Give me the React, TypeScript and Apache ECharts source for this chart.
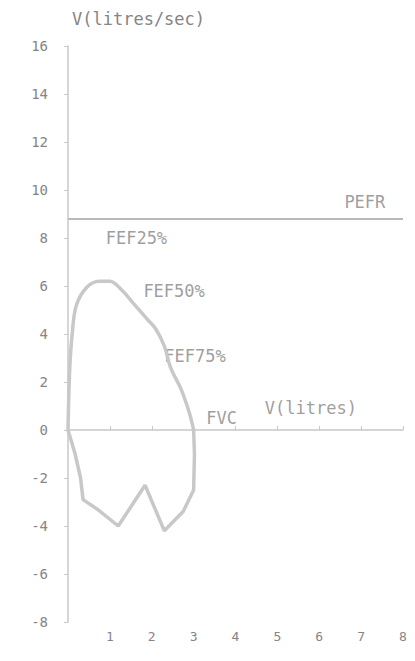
import React, { useEffect, useRef } from "react";
import * as echarts from "echarts";

const expiratory: [number, number][] = [
  [0, 0], [0.04, 2.5], [0.1, 4.0], [0.2, 5.2], [0.45, 5.95], [0.75, 6.2], [1.0, 6.2],
  [1.3, 5.8], [1.55, 5.3], [1.9, 4.6], [2.1, 4.2], [2.3, 3.5], [2.45, 2.6],
  [2.7, 1.7], [2.9, 0.7], [3.0, 0],
];
const inspiratory: [number, number][] = [
  [0, 0], [0.17, -1.0], [0.3, -2.0], [0.36, -2.9], [0.7, -3.3], [1.2, -4.0],
  [1.84, -2.3], [2.3, -4.2], [2.75, -3.4], [3.0, -2.5], [3.02, -1.0], [3.0, 0],
];
const pefrValue = 8.8;
const annotations: { name: string; x: number; y: number }[] = [
  { name: "FEF25%", x: 0.9, y: 8.0 },
  { name: "FEF50%", x: 1.8, y: 5.8 },
  { name: "FEF75%", x: 2.3, y: 3.1 },
  { name: "FVC", x: 3.3, y: 0.5 },
  { name: "V(litres)", x: 4.7, y: 0.9 },
  { name: "PEFR", x: 6.6, y: 9.5 },
];
const xTicks = [0, 1, 2, 3, 4, 5, 6, 7, 8];
const yTicks = [-8, -6, -4, -2, 0, 2, 4, 6, 8, 10, 12, 14, 16];

const TEXT = "#858585";
const LINE = "#c8c8c8";
const FONT = "'DejaVu Sans Mono', 'Liberation Mono', monospace";

export default function App() {
  const ref = useRef<HTMLDivElement>(null);
  useEffect(() => {
    if (!ref.current) return;
    const chart = echarts.init(ref.current, undefined, { renderer: "svg" });
    chart.setOption({
      animation: false,
      backgroundColor: "#ffffff",
      grid: { left: 68, right: 12, top: 46, bottom: 39 },
      graphic: [
        {
          type: "text",
          left: 72,
          top: 10,
          style: { text: "V(litres/sec)", fill: TEXT, font: `17px ${FONT}` },
        },
      ],
      xAxis: {
        type: "value",
        min: xTicks[0],
        max: xTicks[xTicks.length - 1],
        interval: 1,
        axisLine: { onZero: true, lineStyle: { color: LINE, width: 1.5 } },
        axisTick: { show: true, inside: true, length: 4, lineStyle: { color: LINE } },
        axisLabel: {
          color: TEXT,
          fontFamily: FONT,
          fontSize: 13,
          margin: 8,
          formatter: (v: number) => (v === 0 ? "" : String(v)),
        },
        splitLine: { show: false },
      },
      yAxis: {
        type: "value",
        min: yTicks[0],
        max: yTicks[yTicks.length - 1],
        interval: 2,
        axisLine: { show: true, lineStyle: { color: LINE, width: 1.5 } },
        axisTick: { show: true, length: 4, lineStyle: { color: LINE } },
        axisLabel: { color: TEXT, fontFamily: FONT, fontSize: 14, margin: 20 },
        splitLine: { show: false },
      },
      series: [
        {
          type: "line",
          data: expiratory,
          smooth: 0.35,
          symbol: "none",
          lineStyle: { color: LINE, width: 3.5 },
          markLine: {
            silent: true,
            symbol: "none",
            label: { show: false },
            lineStyle: { color: "#b8b8b8", width: 2, type: "solid" },
            data: [{ yAxis: pefrValue }],
          },
        },
        {
          type: "line",
          data: inspiratory,
          smooth: false,
          symbol: "none",
          lineStyle: { color: LINE, width: 3.5 },
        },
        {
          type: "scatter",
          symbolSize: 0,
          data: annotations.map((a) => ({ name: a.name, value: [a.x, a.y] })),
          label: {
            show: true,
            position: "right",
            distance: 0,
            formatter: (p: any) => p.name,
            color: TEXT,
            fontFamily: FONT,
            fontSize: 17,
          },
        },
      ],
    });
    return () => chart.dispose();
  }, []);
  return <div ref={ref} style={{ width: 415, height: 661, margin: -8 }} />;
}
